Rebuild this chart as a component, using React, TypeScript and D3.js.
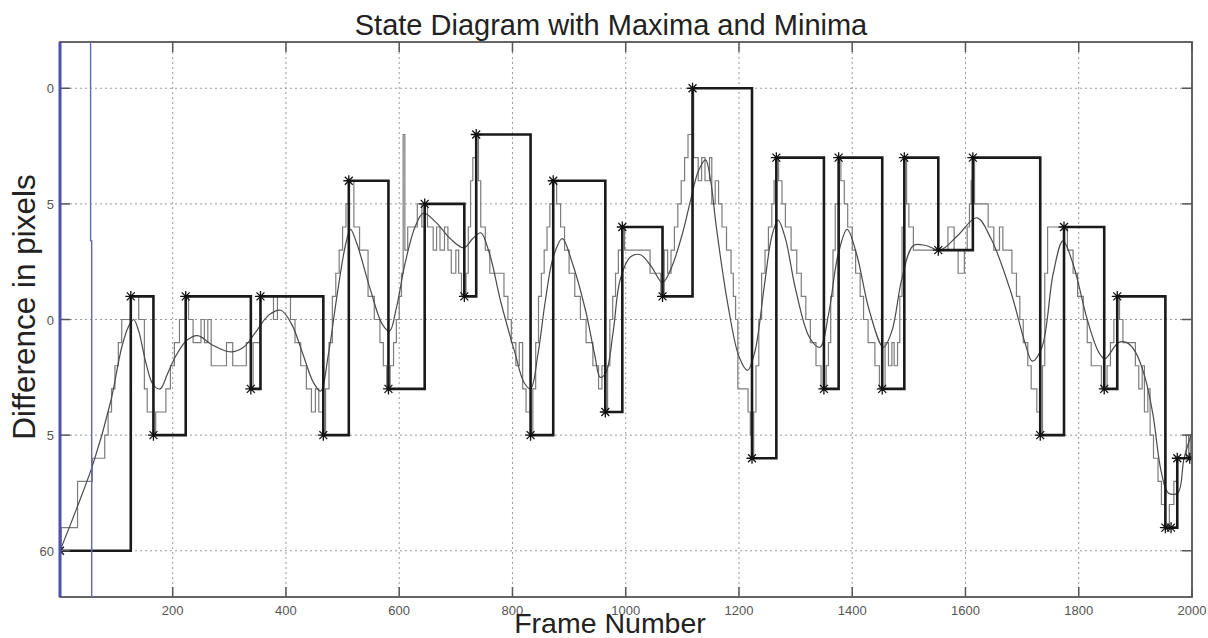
import React from 'react';
import * as d3 from 'd3';

const WIDTH = 1208;
const HEIGHT = 638;
const PLOT = { left: 60, right: 1192, top: 42, bottom: 597 };

const X_DOMAIN: [number, number] = [1, 2000];
const Y_DOMAIN: [number, number] = [38, 62];

const xTickValues = [200, 400, 600, 800, 1000, 1200, 1400, 1600, 1800, 2000];
const yTickValues = [40, 45, 50, 55, 60];
const yTickLabels = ['0', '5', '0', '5', '60'];

// state diagram: extrema (frame, value); the state holds each value until the next extremum
const extrema: [number, number][] = [
  [1, 60], [126, 49], [166, 55], [223, 49], [338, 53], [355, 49], [466, 55], [511, 44],
  [581, 53], [645, 45], [715, 49], [736, 42], [832, 55], [872, 44], [964, 54], [994, 46],
  [1065, 49], [1118, 40], [1223, 56], [1266, 43], [1350, 53], [1376, 43], [1453, 53],
  [1492, 43], [1552, 47], [1613, 43], [1732, 55], [1774, 46], [1845, 53], [1868, 49],
  [1953, 59], [1963, 59], [1974, 56], [1996, 56],
];

// raw integer signal (step changes at frame, value)
const rawSignal: [number, number][] = [
  [1, 60], [3, 59], [32, 57], [58, 56], [80, 55], [86, 54], [92, 53], [98, 52], [104, 51],
  [110, 50], [126, 49], [140, 50], [150, 53], [155, 54], [166, 55], [170, 54], [188, 53],
  [196, 52], [203, 51], [212, 50], [223, 49], [228, 50], [236, 51], [250, 50], [256, 51],
  [262, 50], [268, 52], [295, 51], [306, 52], [330, 51], [338, 53], [342, 51], [355, 49],
  [378, 50], [385, 49], [400, 49], [408, 50], [416, 51], [426, 52], [436, 53], [445, 54],
  [452, 53], [458, 54], [466, 55], [470, 53], [476, 51], [482, 49], [488, 48], [494, 47],
  [500, 46], [506, 45], [511, 44], [520, 46], [530, 47], [545, 49], [556, 50], [566, 51],
  [572, 52], [578, 53], [584, 52], [590, 51], [595, 50], [600, 49], [604, 48], [607, 42],
  [610, 47], [615, 46], [632, 45], [640, 46], [645, 45], [650, 46], [660, 47], [666, 46],
  [672, 47], [680, 46], [686, 47], [692, 48], [700, 47], [705, 48], [710, 49], [718, 48],
  [722, 46], [726, 44], [730, 43], [736, 42], [740, 44], [744, 46], [752, 47], [760, 48],
  [785, 49], [792, 50], [798, 51], [806, 52], [812, 51], [818, 53], [824, 54], [832, 55],
  [836, 53], [841, 51], [846, 49], [851, 48], [856, 47], [861, 46], [866, 45], [872, 44],
  [878, 45], [885, 46], [892, 47], [900, 48], [910, 49], [920, 50], [930, 51], [942, 52],
  [952, 53], [958, 52], [964, 54], [968, 52], [972, 50], [977, 49], [982, 48], [987, 47],
  [994, 46], [998, 47], [1043, 48], [1062, 49], [1068, 47], [1074, 48], [1080, 47],
  [1086, 46], [1092, 45], [1098, 44], [1104, 43], [1110, 42], [1118, 40], [1120, 43],
  [1128, 44], [1134, 43], [1140, 44], [1148, 43], [1152, 45], [1158, 44], [1164, 45],
  [1170, 46], [1178, 47], [1186, 48], [1190, 49], [1194, 50], [1198, 53], [1216, 54],
  [1220, 55], [1223, 56], [1226, 54], [1230, 52], [1235, 50], [1240, 48], [1246, 47],
  [1252, 46], [1258, 45], [1262, 44], [1266, 43], [1270, 44], [1276, 45], [1282, 46],
  [1292, 47], [1302, 48], [1310, 49], [1318, 50], [1326, 51], [1336, 52], [1345, 53],
  [1354, 52], [1358, 51], [1362, 49], [1366, 47], [1370, 45], [1376, 43], [1380, 44],
  [1386, 45], [1392, 46], [1400, 47], [1406, 48], [1414, 49], [1420, 50], [1428, 51],
  [1440, 52], [1448, 53], [1458, 51], [1464, 52], [1470, 51], [1474, 52], [1480, 51],
  [1484, 49], [1488, 46], [1492, 43], [1496, 45], [1500, 46], [1508, 47], [1569, 46],
  [1580, 47], [1587, 48], [1598, 47], [1603, 46], [1607, 45], [1610, 44], [1613, 43],
  [1616, 45], [1640, 46], [1650, 47], [1660, 46], [1666, 47], [1682, 48], [1690, 49],
  [1696, 50], [1702, 51], [1710, 52], [1716, 53], [1726, 54], [1732, 55], [1736, 52],
  [1740, 48], [1745, 46], [1780, 47], [1790, 48], [1798, 49], [1808, 50], [1815, 51],
  [1822, 52], [1840, 53], [1850, 52], [1856, 51], [1862, 50], [1868, 49], [1872, 50],
  [1878, 51], [1900, 52], [1906, 53], [1912, 52], [1916, 54], [1922, 53], [1926, 55],
  [1932, 56], [1940, 57], [1946, 58], [1953, 59], [1960, 58], [1968, 57], [1974, 56],
  [1990, 55], [1994, 56], [1997, 55],
];

// smoothed signal (frame, value)
const smoothSignal: [number, number][] = [
  [1, 60], [30, 58.2], [60, 56.2], [90, 53.6], [110, 51.2], [122, 50.3], [131, 50],
  [140, 50.5], [152, 51.8], [165, 52.8], [178, 53], [190, 52.4], [205, 51.6], [225, 50.9],
  [244, 50.7], [270, 51.1], [302, 51.4], [325, 51.2], [345, 50.6], [370, 49.8], [391, 49.6],
  [410, 50.2], [430, 51.5], [448, 52.7], [461, 53.1], [475, 51.5], [490, 49], [505, 46.8],
  [514, 46.1], [525, 46.7], [549, 48.7], [570, 50.2], [583, 50.5], [595, 49.5], [611, 47.5],
  [628, 46], [643, 45.4], [665, 45.8], [690, 46.5], [714, 46.9], [730, 46.5], [744, 46.25],
  [760, 47.2], [779, 49.2], [805, 51.5], [820, 52.7], [832, 53], [845, 51.5], [858, 49.2],
  [872, 47.3], [888, 46.5], [905, 47.5], [929, 49.6], [945, 51.5], [955, 52.5], [965, 52.3],
  [978, 50.5], [990, 48.3], [1008, 47.3], [1026, 47.2], [1045, 47.7], [1065, 48.4],
  [1080, 47.8], [1100, 46.3], [1114, 44.9], [1128, 43.6], [1141, 43.1], [1150, 44],
  [1160, 46], [1180, 49.3], [1200, 51.6], [1215, 52.2], [1228, 51.4], [1245, 48.5],
  [1258, 46.4], [1269, 45.7], [1282, 46.5], [1300, 48.7], [1325, 50.8], [1343, 51.2],
  [1358, 49.8], [1375, 47.2], [1391, 46.1], [1408, 47.2], [1430, 49.6], [1455, 51.2],
  [1470, 50.5], [1488, 48.2], [1508, 46.8], [1530, 46.8], [1555, 47], [1585, 46.4],
  [1620, 45.6], [1645, 46.5], [1680, 48.8], [1705, 51], [1718, 51.8], [1735, 51.2],
  [1755, 48], [1772, 46.6], [1790, 47.6], [1815, 50], [1835, 51.4], [1846, 51.7],
  [1870, 51], [1885, 51], [1900, 51.4], [1917, 52.5], [1931, 54.1], [1945, 56.5],
  [1958, 57.5], [1975, 57.5], [1986, 56], [2000, 54.9],
];

// blue marker lines (frame, value)
const blueAxisTrace: [number, number][] = [[1, 38], [1, 62]];
const blueMarkerTrace: [number, number][] = [[55, 38], [55, 46.6], [57, 46.6], [57, 62]];

const FONT = 'Arial, "Liberation Sans", Helvetica, sans-serif';

export default function App() {
  const x = d3.scaleLinear().domain(X_DOMAIN).range([PLOT.left, PLOT.right]);
  const y = d3.scaleLinear().domain(Y_DOMAIN).range([PLOT.top, PLOT.bottom]);

  const lineGen = d3.line<[number, number]>().x((d) => x(d[0])).y((d) => y(d[1]));
  const stepGen = d3
    .line<[number, number]>()
    .x((d) => x(d[0]))
    .y((d) => y(d[1]))
    .curve(d3.curveStepAfter);
  const smoothGen = d3
    .line<[number, number]>()
    .x((d) => x(d[0]))
    .y((d) => y(d[1]))
    .curve(d3.curveCatmullRom.alpha(0.5));

  const lastState = extrema[extrema.length - 1][1];
  const statePath = stepGen([...extrema, [X_DOMAIN[1], lastState]]) || '';
  const lastRaw = rawSignal[rawSignal.length - 1][1];
  const rawPath = stepGen([...rawSignal, [X_DOMAIN[1], lastRaw]]) || '';
  const smoothPath = smoothGen(smoothSignal) || '';

  const starPath = (cx: number, cy: number, r: number) => {
    const d = r * 0.72;
    return `M${cx - r},${cy}H${cx + r}M${cx},${cy - r}V${cy + r}M${cx - d},${cy - d}L${cx + d},${cy + d}M${cx - d},${cy + d}L${cx + d},${cy - d}`;
  };

  const tickLen = 10;
  const axisColor = '#555';

  return (
    <svg
      width={WIDTH}
      height={HEIGHT}
      style={{ position: 'absolute', left: 0, top: 0, background: '#fff' }}
      fontFamily={FONT}
    >
      <defs>
        <clipPath id="plotClip">
          <rect x={PLOT.left} y={PLOT.top} width={PLOT.right - PLOT.left} height={PLOT.bottom - PLOT.top} />
        </clipPath>
      </defs>
      <rect x={0} y={0} width={WIDTH} height={HEIGHT} fill="#fff" />

      {/* grid */}
      <g stroke="#9a9a9a" strokeWidth={1} strokeDasharray="2 3">
        {xTickValues.map((t) => (
          <line key={'gx' + t} x1={x(t)} x2={x(t)} y1={PLOT.top} y2={PLOT.bottom} />
        ))}
        {yTickValues.map((t) => (
          <line key={'gy' + t} x1={PLOT.left} x2={PLOT.right} y1={y(t)} y2={y(t)} />
        ))}
      </g>

      <g clipPath="url(#plotClip)">
        <path d={rawPath} fill="none" stroke="#7c7c7c" strokeWidth={1.2} />
        <path d={smoothPath} fill="none" stroke="#4a4a4a" strokeWidth={1.2} />
        <path d={statePath} fill="none" stroke="#1a1a1a" strokeWidth={2.6} />
        <g stroke="#111" strokeWidth={1.3}>
          {extrema.map((p, i) => (
            <path key={'s' + i} d={starPath(x(p[0]), y(p[1]), 5.5)} />
          ))}
        </g>
      </g>

      {/* frame */}
      <rect
        x={PLOT.left}
        y={PLOT.top}
        width={PLOT.right - PLOT.left}
        height={PLOT.bottom - PLOT.top}
        fill="none"
        stroke={axisColor}
        strokeWidth={1.8}
      />

      {/* ticks */}
      <g stroke={axisColor} strokeWidth={1.5}>
        {xTickValues.map((t) => (
          <g key={'tx' + t}>
            <line x1={x(t)} x2={x(t)} y1={PLOT.bottom} y2={PLOT.bottom - tickLen} />
            <line x1={x(t)} x2={x(t)} y1={PLOT.top} y2={PLOT.top + tickLen} />
          </g>
        ))}
        {yTickValues.map((t) => (
          <g key={'ty' + t}>
            <line x1={PLOT.left} x2={PLOT.left + tickLen} y1={y(t)} y2={y(t)} />
            <line x1={PLOT.right} x2={PLOT.right - tickLen} y1={y(t)} y2={y(t)} />
          </g>
        ))}
      </g>

      {/* blue lines */}
      <path d={lineGen(blueAxisTrace) || ''} fill="none" stroke="#4f4fae" strokeWidth={3} />
      <path d={lineGen(blueMarkerTrace) || ''} fill="none" stroke="#6464c4" strokeWidth={1.4} />

      {/* tick labels */}
      <g fill="#555" fontSize={13} textAnchor="middle">
        {xTickValues.map((t) => (
          <text key={'lx' + t} x={x(t)} y={615}>
            {String(t)}
          </text>
        ))}
      </g>
      <g fill="#555" fontSize={13} textAnchor="end">
        {yTickValues.map((t, i) => (
          <text key={'ly' + t} x={54} y={y(t) + 5}>
            {yTickLabels[i]}
          </text>
        ))}
      </g>

      {/* titles */}
      <text x={611} y={35} textAnchor="middle" fontSize={29} fill="#222">
        State Diagram with Maxima and Minima
      </text>
      <text x={610} y={633} textAnchor="middle" fontSize={28.5} fill="#222">
        Frame Number
      </text>
      <text
        transform={`translate(35, 307) rotate(-90)`}
        textAnchor="middle"
        fontSize={31.5}
        fill="#222"
      >
        Difference in pixels
      </text>
    </svg>
  );
}
